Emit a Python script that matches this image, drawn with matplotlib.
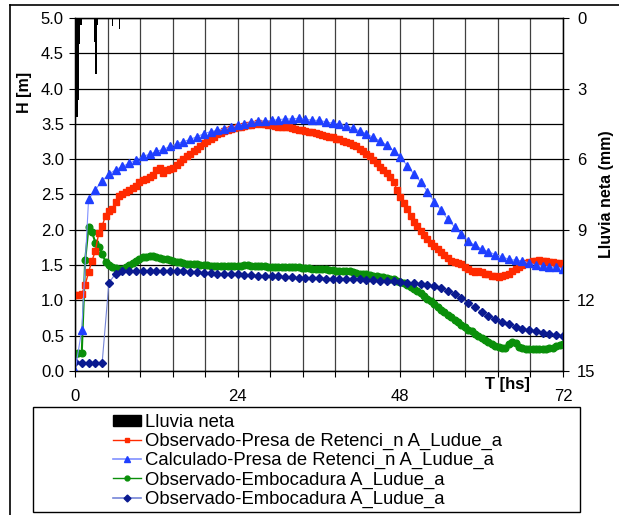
import numpy as np
import matplotlib
matplotlib.use('Agg')
import matplotlib.pyplot as plt
from matplotlib.patches import Rectangle, Patch
from matplotlib.lines import Line2D

plt.rcParams['font.family'] = ['Liberation Sans', 'DejaVu Sans']

# --- data ---
t_half = np.arange(0, 72.5, 0.5)   # 30 min readings
t_hour = np.arange(0, 73, 1.0)     # hourly readings

obs_presa = [
    1.08, 1.08, 1.09, 1.22, 1.40, 1.56, 1.70, 1.95, 2.05, 2.20,
    2.26, 2.30, 2.40, 2.48, 2.51, 2.54, 2.56, 2.59, 2.62, 2.67,
    2.70, 2.72, 2.75, 2.78, 2.84, 2.87, 2.81, 2.84, 2.86, 2.88,
    2.92, 2.96, 3.00, 3.04, 3.07, 3.11, 3.15, 3.19, 3.23, 3.26,
    3.29, 3.32, 3.35, 3.37, 3.40, 3.41, 3.43, 3.44, 3.45, 3.46,
    3.47, 3.48, 3.49, 3.50, 3.51, 3.50, 3.50, 3.49, 3.48, 3.47,
    3.46, 3.46, 3.45, 3.45, 3.44, 3.43, 3.42, 3.41, 3.40, 3.39,
    3.38, 3.37, 3.35, 3.34, 3.33, 3.32, 3.31, 3.29, 3.28, 3.26,
    3.25, 3.23, 3.20, 3.18, 3.15, 3.12, 3.08, 3.04, 2.99, 2.94,
    2.89, 2.85, 2.81, 2.75, 2.68, 2.57, 2.46, 2.38, 2.29, 2.20,
    2.11, 2.05, 1.99, 1.93, 1.87, 1.82, 1.77, 1.73, 1.69, 1.64,
    1.60, 1.56, 1.54, 1.53, 1.51, 1.48, 1.45, 1.42, 1.40, 1.42,
    1.40, 1.38, 1.37, 1.35, 1.34, 1.33, 1.34, 1.36, 1.38, 1.41,
    1.44, 1.47, 1.50, 1.53, 1.55, 1.56, 1.56, 1.57, 1.56, 1.56,
    1.55, 1.54, 1.53, 1.53, 1.52]

obs_embo = [
    0.24, 0.25, 0.26, 1.57, 2.04, 1.97, 1.82, 1.76, 1.66, 1.55,
    1.50, 1.48, 1.46, 1.45, 1.45, 1.47, 1.50, 1.53, 1.56, 1.59,
    1.61, 1.62, 1.63, 1.63, 1.62, 1.60, 1.59, 1.58, 1.57, 1.56,
    1.55, 1.54, 1.53, 1.52, 1.52, 1.51, 1.51, 1.50, 1.50, 1.50,
    1.49, 1.49, 1.49, 1.49, 1.49, 1.49, 1.49, 1.49, 1.49, 1.49,
    1.50, 1.50, 1.49, 1.49, 1.49, 1.49, 1.49, 1.48, 1.48, 1.48,
    1.48, 1.48, 1.47, 1.47, 1.47, 1.47, 1.47, 1.46, 1.46, 1.46,
    1.45, 1.45, 1.44, 1.44, 1.44, 1.43, 1.43, 1.42, 1.42, 1.42,
    1.41, 1.41, 1.40, 1.39, 1.38, 1.38, 1.37, 1.36, 1.35, 1.34,
    1.33, 1.33, 1.32, 1.31, 1.30, 1.28, 1.26, 1.24, 1.22, 1.19,
    1.16, 1.13, 1.10, 1.06, 1.02, 0.99, 0.95, 0.91, 0.87, 0.83,
    0.80, 0.76, 0.72, 0.69, 0.65, 0.62, 0.58, 0.56, 0.53, 0.50,
    0.47, 0.44, 0.41, 0.38, 0.36, 0.34, 0.33, 0.33, 0.38, 0.41,
    0.39, 0.34, 0.32, 0.31, 0.31, 0.31, 0.31, 0.31, 0.31, 0.31,
    0.32, 0.33, 0.35, 0.37, 0.38]

calc_presa = [
    0.00, 0.58, 2.43, 2.57, 2.69, 2.79, 2.85, 2.90, 2.94, 2.99,
    3.04, 3.07, 3.11, 3.14, 3.18, 3.22, 3.25, 3.28, 3.32, 3.36,
    3.39, 3.41, 3.43, 3.45, 3.48, 3.50, 3.52, 3.54, 3.54, 3.55,
    3.56, 3.57, 3.57, 3.58, 3.57, 3.55, 3.55, 3.53, 3.51, 3.50,
    3.47, 3.44, 3.40, 3.36, 3.31, 3.26, 3.20, 3.12, 3.03, 2.91,
    2.79, 2.68, 2.54, 2.40, 2.28, 2.15, 2.04, 1.94, 1.84, 1.78,
    1.73, 1.69, 1.65, 1.62, 1.58, 1.57, 1.56, 1.53, 1.50, 1.49,
    1.47, 1.47, 1.45]

obs_embo2 = [
    0.13, 0.12, 0.12, 0.11, 0.11, 1.25, 1.38, 1.41, 1.42, 1.41,
    1.41, 1.42, 1.42, 1.42, 1.42, 1.41, 1.41, 1.40, 1.40, 1.39,
    1.39, 1.38, 1.38, 1.37, 1.37, 1.36, 1.36, 1.35, 1.35, 1.34,
    1.34, 1.33, 1.33, 1.32, 1.32, 1.32, 1.32, 1.31, 1.31, 1.31,
    1.30, 1.30, 1.30, 1.29, 1.29, 1.28, 1.27, 1.27, 1.26, 1.25,
    1.24, 1.23, 1.22, 1.20, 1.17, 1.14, 1.09, 1.03, 0.96, 0.90,
    0.84, 0.78, 0.74, 0.70, 0.66, 0.63, 0.60, 0.58, 0.56, 0.54,
    0.52, 0.51, 0.50]

rain_t = [0.1, 0.3, 0.5, 0.7, 0.9, 2.9, 3.1, 3.3, 5.5, 6.6]
rain_mm = [5.4, 4.2, 3.5, 1.1, 0.3, 1.0, 2.4, 0.3, 0.35, 0.45]

x_labels = {0: '0', 5: '24', 10: '48', 15: '72'}
labels = ['Lluvia neta',
          'Observado-Presa de Retenci_n A_Ludue_a',
          'Calculado-Presa de Retenci_n A_Ludue_a',
          'Observado-Embocadura A_Ludue_a',
          'Observado-Embocadura A_Ludue_a']

# --- figure ---
W, H = 619, 515
fig = plt.figure(figsize=(W / 100, H / 100), dpi=100)
ax = fig.add_axes([75 / W, 1 - 371 / H, (563 - 75) / W, (371 - 18) / H])

c_red, c_blue, c_green, c_navy = '#ff2a00', '#1f3fff', '#0a8f0a', '#0a1a90'

ax.plot(t_half, obs_presa, color=c_red, lw=1, marker='s', ms=3.8,
        mec=c_red, mfc=c_red, zorder=4)
ax.plot(t_hour, calc_presa, color='#8090ff', lw=0.8, marker='^', ms=5.5,
        mec=c_blue, mfc=c_blue, zorder=5)
ax.plot(t_half, obs_embo, color=c_green, lw=1.5, marker='o', ms=4.8,
        mec=c_green, mfc=c_green, zorder=3)
ax.plot(t_hour, obs_embo2, color='#7585d8', lw=0.8, marker='D', ms=4.5,
        mec=c_navy, mfc=c_navy, zorder=4)

ax.set_xlim(0, 72)
ax.set_ylim(0, 5)
ax.set_xticks(np.arange(0, 72.1, 4.8))
ax.set_xticklabels([x_labels.get(i, '') for i in range(16)])
ax.set_yticks(np.arange(0, 5.01, 0.5))
ax.set_yticklabels(['%.1f' % v for v in np.arange(0, 5.01, 0.5)])
ax.grid(True, axis='y', color='black', lw=0.9)
ax.grid(True, axis='x', color='#404040', lw=0.9)
ax.set_axisbelow(True)
ax.tick_params(labelsize=12, direction='out', length=4, color='black', pad=4)
ax.tick_params(axis='x', pad=9)
for s in ax.spines.values():
    s.set_color('black')
    s.set_linewidth(1)

ax2 = ax.twinx()
ax2.bar(rain_t, rain_mm, width=0.2, color='black', bottom=0)
ax2.set_ylim(15, 0)
ax2.set_yticks([0, 3, 6, 9, 12, 15])
ax2.tick_params(labelsize=12, direction='out', length=4, pad=6)
for s in ax2.spines.values():
    s.set_color('black')

ax.set_ylabel('H [m]', fontsize=11.5, fontweight='bold')
ax.yaxis.set_label_coords(-0.088, 0.79)
ax2.set_ylabel('Lluvia neta (mm)', fontsize=11.5, fontweight='bold', rotation=90)
ax2.yaxis.set_label_coords(1.073, 0.5)
fig.text(507 / W, 1 - 385 / H, 'T [hs]', fontsize=12, fontweight='bold',
         ha='center', va='center')

# chart border
fig.add_artist(Line2D([10 / W, 10 / W], [0, 1 - 5 / H], color='black', lw=1.2))
fig.add_artist(Line2D([10 / W, 1], [1 - 5 / H, 1 - 5 / H], color='black', lw=1.2))

# legend box
fig.add_artist(Rectangle((33 / W, 1 - 512 / H), (580 - 33) / W, (512 - 407) / H,
                         transform=fig.transFigure, fill=False, ec='black', lw=1))
handles = [Patch(fc='black', ec='black'),
           Line2D([], [], color=c_red, marker='s', ms=3, lw=1),
           Line2D([], [], color='#8090ff', marker='^', mfc=c_blue, mec=c_blue, ms=4, lw=1.2),
           Line2D([], [], color=c_green, marker='o', ms=3.5, lw=1),
           Line2D([], [], color='#7585d8', marker='D', mfc=c_navy, mec=c_navy, ms=3.5, lw=1.2)]
fig.legend(handles, labels, loc='upper left', bbox_to_anchor=(100 / W, 1 - 401 / H),
           frameon=False, fontsize=13.3, handlelength=1.5, handleheight=0.5,
           handletextpad=0.25, labelspacing=0.11, borderpad=0.2)

fig.savefig('out.png', dpi=100)
